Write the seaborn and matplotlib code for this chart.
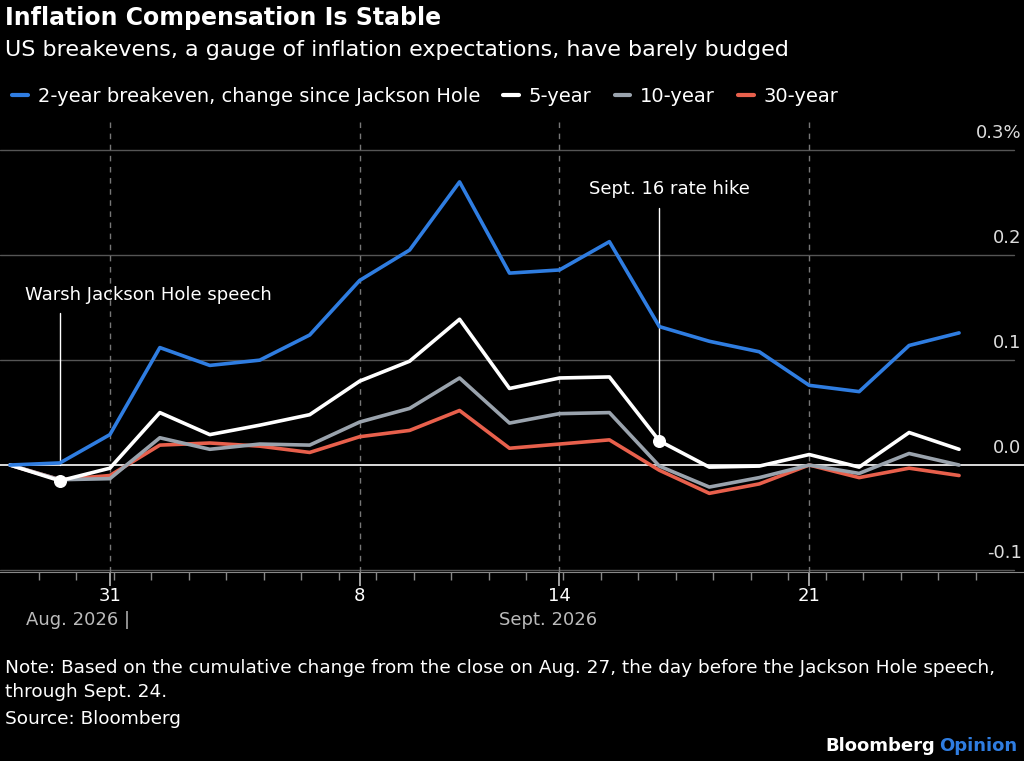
import numpy as np
import pandas as pd
import matplotlib.pyplot as plt
import matplotlib.lines as mlines
import seaborn as sns

sns.set_style("dark")
plt.rcParams['font.family'] = ['DejaVu Sans']

dates = ['Aug 27', 'Aug 28', 'Aug 31', 'Sep 1', 'Sep 2', 'Sep 3', 'Sep 4', 'Sep 8', 'Sep 9', 'Sep 10',
         'Sep 11', 'Sep 14', 'Sep 15', 'Sep 16', 'Sep 17', 'Sep 18', 'Sep 21', 'Sep 22', 'Sep 23', 'Sep 24']
two_year = [0, .002, .029, .112, .095, .100, .124, .176, .205, .270, .183, .186, .213, .132, .118, .108, .076, .070, .114, .126]
five_year = [0, -.015, -.003, .050, .029, .038, .048, .080, .099, .139, .073, .083, .084, .023, -.002, -.001, .010, -.002, .031, .015]
ten_year = [0, -.014, -.013, .026, .015, .020, .019, .041, .054, .083, .040, .049, .050, -.001, -.021, -.012, 0, -.008, .011, 0]
thirty_year = [0, -.014, -.010, .019, .021, .018, .012, .027, .033, .052, .016, .020, .024, -.005, -.027, -.018, 0, -.012, -.003, -.010]

series = {
    '2-year breakeven, change since Jackson Hole': (two_year, '#2f7de1'),
    '5-year': (five_year, '#ffffff'),
    '10-year': (ten_year, '#9aa3ad'),
    '30-year': (thirty_year, '#e8604c'),
}
major_ticks = {2: '31', 7: '8', 11: '14', 16: '21'}
y_ticks = [-0.1, 0.0, 0.1, 0.2, 0.3]

rows = []
for name, (vals, _) in series.items():
    for i, v in enumerate(vals):
        rows.append({'idx': i, 'value': v, 'series': name})
df = pd.DataFrame(rows)

bg = '#000000'
fig = plt.figure(figsize=(10.24, 7.61), dpi=100, facecolor=bg)
ax = fig.add_axes([0, 1 - 572 / 761, 1, 452 / 761], facecolor=bg)

for y in y_ticks:
    if y != 0:
        ax.plot([-0.2, 20.1], [y, y], color='#555555', lw=1, zorder=0)
for i in major_ticks:
    ax.axvline(i, color='#777777', lw=1, ls=(0, (4, 4)), zorder=0)
ax.axhline(0, color='white', lw=1.2, zorder=1)

palette = {k: c for k, (v, c) in series.items()}
sns.lineplot(data=df, x='idx', y='value', hue='series', palette=palette,
             hue_order=list(series)[::-1], lw=2.6, ax=ax, legend=False, zorder=3)

ax.set_xlim(-0.2, 20.3)
ax.set_ylim(-0.102, 0.329)
for s in ['top', 'right', 'left']:
    ax.spines[s].set_visible(False)
ax.spines['bottom'].set_color('#888888')
ax.set_yticks([])
ax.set_xlabel('')
ax.set_ylabel('')
ax.set_xticks(list(major_ticks))
ax.set_xticklabels(list(major_ticks.values()), color='white', fontsize=13)
ax.set_xticks(np.arange(0.58, 20, 0.75), minor=True)
ax.tick_params(axis='x', which='both', bottom=True)
ax.tick_params(axis='x', which='major', length=10, width=1.2, color='#bbbbbb', pad=1)
ax.tick_params(axis='x', which='minor', length=6, width=1, color='#888888')

for y in y_ticks:
    lab = f'{y:.1f}%' if y == 0.3 else f'{y:.1f}'
    ax.text(20.25, y + 0.008, lab, color='#dddddd', fontsize=13, va='bottom', ha='right')

# annotations
ax.plot([1, 1], [0, 0.145], color='white', lw=1)
ax.scatter([1], [five_year[1]], s=70, color='white', zorder=5)
ax.text(0.3, 0.157, 'Warsh Jackson Hole speech', color='white', fontsize=13)
ax.plot([13, 13], [five_year[13], 0.245], color='white', lw=1)
ax.scatter([13], [five_year[13]], s=70, color='white', zorder=5)
ax.text(11.6, 0.258, 'Sept. 16 rate hike', color='white', fontsize=13)

fig.text(0.025, 1 - 620 / 761, 'Aug. 2026 |', color='#bbbbbb', fontsize=13, va='center')
fig.text(0.487, 1 - 620 / 761, 'Sept. 2026', color='#bbbbbb', fontsize=13, va='center')

fig.text(0.005, 1 - 18 / 761, 'Inflation Compensation Is Stable', color='white', fontsize=17,
         fontweight='bold', va='center')
fig.text(0.005, 1 - 50 / 761, 'US breakevens, a gauge of inflation expectations, have barely budged',
         color='white', fontsize=16, va='center')

handles = [mlines.Line2D([], [], color=c, lw=3) for k, (v, c) in series.items()]
leg = fig.legend(handles, list(series), loc='center left', bbox_to_anchor=(-0.005, 1 - 96 / 761),
                 ncol=4, frameon=False, fontsize=14, handlelength=0.8, handletextpad=0.5,
                 columnspacing=1.2, labelcolor='white')

fig.text(0.005, 1 - 668 / 761, 'Note: Based on the cumulative change from the close on Aug. 27, the day before the Jackson Hole speech,',
         color='white', fontsize=13.3, va='center')
fig.text(0.005, 1 - 692 / 761, 'through Sept. 24.', color='white', fontsize=13.3, va='center')
fig.text(0.005, 1 - 719 / 761, 'Source: Bloomberg', color='white', fontsize=13.3, va='center')
fig.text(0.806, 1 - 746 / 761, 'Bloomberg', color='white', fontsize=13, fontweight='bold', va='center')
fig.text(0.917, 1 - 746 / 761, 'Opinion', color='#2f7de1', fontsize=13, fontweight='bold', va='center')

fig.savefig('out.png', dpi=100, facecolor=bg)
